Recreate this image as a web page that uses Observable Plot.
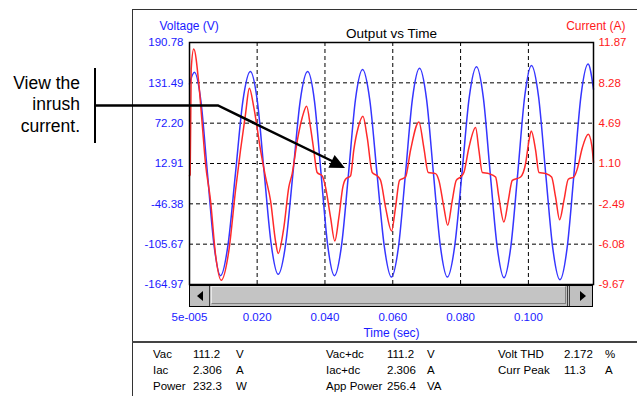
<!DOCTYPE html>
<html><head><meta charset="utf-8">
<script src="https://cdn.jsdelivr.net/npm/d3@7"></script>
<script src="https://cdn.jsdelivr.net/npm/@observablehq/plot@0.6"></script>
<style>
body{margin:0;background:#fff;width:637px;height:396px;overflow:hidden;position:relative;font-family:"Liberation Sans",Arial,sans-serif;}
#chart{position:absolute;left:0;top:0;}
.abs{position:absolute;white-space:nowrap;}
.tbl{position:absolute;white-space:nowrap;font-size:11.5px;line-height:14px;color:#000;}
</style></head><body>
<div class="abs" style="left:132px;top:9px;width:510px;height:400px;border-left:1px solid #333;border-top:1px solid #333;"></div>
<div class="abs" style="left:132px;top:341px;width:510px;height:2px;background:#444;"></div>
<div id="chart"></div>
<div id="scroll" class="abs" style="left:189px;top:284px;width:404px;height:23px;box-sizing:border-box;border:1px solid #000;border-top:2px solid #000;background:#c0c0c0;">
  <div class="abs" style="left:7px;top:5px;width:0;height:0;border-top:5px solid transparent;border-bottom:5px solid transparent;border-right:6px solid #000;"></div>
  <div class="abs" style="left:19px;top:0;width:1px;height:100%;background:#404040;"></div>
  <div class="abs" style="left:21px;top:0;width:355px;height:18px;box-sizing:border-box;border-top:1px solid #e8e8e8;border-left:1px solid #e8e8e8;border-right:1px solid #808080;border-bottom:1px solid #808080;background:#c4c4c4;"></div>
  <div class="abs" style="left:377px;top:0;width:1px;height:100%;background:#404040;"></div>
  <div class="abs" style="left:379px;top:0;width:1px;height:100%;background:#404040;"></div>
  <div class="abs" style="left:390px;top:5px;width:0;height:0;border-top:5px solid transparent;border-bottom:5px solid transparent;border-left:6px solid #000;"></div>
</div>
<div class="abs" style="left:0;top:72.5px;width:80px;text-align:right;font-size:17.5px;line-height:21.7px;color:#000;font-family:'Liberation Sans',Arial,sans-serif;">View the<br>inrush<br>current.</div>
<div id="table"></div>
<script>
// ---- data ----
const voltTicks = [190.78, 131.49, 72.20, 12.91, -46.38, -105.67, -164.97];
const voltTickLabels = ["190.78", "131.49", "72.20", "12.91", "-46.38", "-105.67", "-164.97"];
const currTicks = [11.87, 8.28, 4.69, 1.10, -2.49, -6.08, -9.67];
const currTickLabels = ["11.87", "8.28", "4.69", "1.10", "-2.49", "-6.08", "-9.67"];
const timeTicks = [0.05, 20, 40, 60, 80, 100];           // ms
const timeTickLabels = ["5e-005", "0.020", "0.040", "0.060", "0.080", "0.100"];

// Voltage waveform (time ms, volts)
const voltTime = [0.05,1.5,3.43,5.35,7.28,9.2,11.4,13.6,15.8,18.0,20.05,22.1,24.15,26.2,28.4,30.55,32.7,34.9,36.9,38.85,40.8,42.8,44.9,46.95,49.0,51.1,53.2,55.35,57.5,59.6,61.7,63.75,65.8,67.9,69.95,72.0,74.05,76.1,78.25,80.4,82.55,84.7,86.7,88.75,90.8,92.8,94.8,96.85,98.9,100.9,103.0,105.1,107.2,109.3,111.4,113.45,115.5,117.6,119.2];
const voltValue = [130,147,104,-2,-107,-152,-107,-2,105,148,105,-2,-106,-150,-106,-2,105,148,105,-2,-107,-152,-107,-2,107,151,107,-2,-109,-154,-109,-2,108,153,108,-2,-109,-154,-109,-2,110,155,110,-2,-110,-155,-110,-2,111,157,111,-2,-112,-158,-112,-2,112,159,122];

// Current waveform (time ms, amps)
const currTime = [0.05,0.25,0.55,1.3,2.8,3.8,4.77,6.25,7.72,9.4,11.64,13.62,15.1,16.57,17.7,
  19.02,21.0,22.47,23.95,25.42,26.2,27.87,29.34,30.34,31.82,33.3,34.6,
  35.75,36.7,37.7,39.2,40.17,41.65,42.9,44.1,45.27,46.07,47.55,48.5,49.8,51.2,
  52.47,53.95,55.4,56.4,57.87,59.64,60.82,62.0,63.77,65.25,67.7,
  69.17,70.45,72.62,73.6,75.07,76.2,77.54,78.72,80.0,80.97,82.45,84.42,
  85.4,86.4,88.34,90.32,91.29,92.77,94.07,95.25,97.7,99.17,100.15,100.85,
  102.12,103.1,105.07,106.84,108.02,109.2,110.47,111.76,113.42,114.4,115.9,117.66,118.7,119.2];
const currValue = [0.0,0.1,9.5,11.3,8.2,4.6,1.1,-2.2,-7.0,-9.3,-6.7,-1.3,2.3,5.5,7.8,
  6.1,2.3,-0.1,-2.2,-5.8,-6.9,-4.6,-1.0,0.2,3.1,5.2,6.2,
  4.3,2.3,0.3,0.0,-1.0,-3.7,-5.8,-3.7,-1.0,-0.3,0.0,2.3,4.3,5.3,
  3.4,0.3,0.0,-0.4,-2.8,-4.9,-2.8,-0.4,-0.1,2.3,4.8,
  2.5,0.3,0.2,-0.4,-2.8,-4.4,-2.2,-0.4,-0.1,0.3,2.5,4.3,
  2.3,0.3,0.2,-0.1,-1.9,-4.1,-2.2,-0.4,-0.1,1.1,3.1,4.0,
  2.3,0.3,0.2,-0.1,-1.9,-3.9,-2.2,-0.3,-0.1,0.6,2.5,3.7,2.7,1.2];

const tableLabels = [["Vac", "Iac", "Power"], ["Vac+dc", "Iac+dc", "App Power"], ["Volt THD", "Curr Peak"]];
const tableValues = [["111.2", "2.306", "232.3"], ["111.2", "2.306", "256.4"], ["2.172", "11.3"]];
const tableUnits = [["V", "A", "W"], ["V", "A", "VA"], ["%", "A"]];

// ---- build ----
const vMax = voltTicks[0], vMin = voltTicks[voltTicks.length - 1];
const iMax = currTicks[0], iMin = currTicks[currTicks.length - 1];
const toV = I => vMin + (I - iMin) / (iMax - iMin) * (vMax - vMin);

const voltData = voltTime.map((t, i) => ({t, v: voltValue[i]}));
const currData = currTime.map((t, i) => ({t, c: currValue[i]}));

const BLUE = "#1a1aff", RED = "#ff1a1a";
const FONT = "'Liberation Sans', Arial, sans-serif";
const txt = {fontFamily: FONT, lineAnchor: "middle"};

const chart = Plot.plot({
  width: 637, height: 396,
  marginLeft: 189, marginRight: 44, marginTop: 42, marginBottom: 112,
  x: {domain: [0.05, 119.2], axis: null},
  y: {domain: [vMin, vMax], axis: null},
  style: {background: "transparent", fontFamily: FONT, overflow: "visible"},
  marks: [
    Plot.ruleY(voltTicks.slice(1, -1), {stroke: "#000", strokeDasharray: "4,3", strokeWidth: 1}),
    Plot.ruleX(timeTicks.slice(1), {stroke: "#000", strokeDasharray: "4,3", strokeWidth: 1}),
    Plot.line(voltData, {x: "t", y: "v", stroke: "#3535ff", strokeWidth: 1.5, curve: "monotone-x"}),
    Plot.line(currData, {x: "t", y: d => toV(d.c), stroke: "#ff2a2a", strokeWidth: 1.5, curve: "monotone-x"}),
    Plot.frame({stroke: "#000", strokeWidth: 1.5}),
    Plot.text(voltTicks, {...txt, y: d => d, text: (d, i) => voltTickLabels[i], frameAnchor: "left", dx: -6, textAnchor: "end", fill: BLUE, fontSize: 11.5}),
    Plot.text(currTicks, {...txt, y: d => toV(d), text: (d, i) => currTickLabels[i], frameAnchor: "right", dx: 5, textAnchor: "start", fill: RED, fontSize: 11.5}),
    Plot.text(timeTicks, {...txt, x: d => d, text: (d, i) => timeTickLabels[i], frameAnchor: "bottom", dy: 33, fill: BLUE, fontSize: 11.5}),
    Plot.text(["Time (sec)"], {...txt, text: d => d, frameAnchor: "bottom", dy: 49, fill: BLUE, fontSize: 12}),
    Plot.text(["Voltage (V)"], {...txt, text: d => d, frameAnchor: "top-left", dx: -30, dy: -16, textAnchor: "start", fill: BLUE, fontSize: 12}),
    Plot.text(["Current (A)"], {...txt, text: d => d, frameAnchor: "top-right", dx: 32, dy: -16, textAnchor: "end", fill: RED, fontSize: 12}),
    Plot.text(["Output vs Time"], {...txt, text: d => d, frameAnchor: "top", dy: -9, fill: "#000", fontSize: 13.5})
  ]
});
document.getElementById("chart").appendChild(chart);

// table below the chart
const colX = [[153, 193, 236], [326, 387, 427], [498, 564, 605]];
const rowY = [354, 370, 386];
const tbl = document.getElementById("table");
tableLabels.forEach((col, c) => {
  col.forEach((lab, r) => {
    [lab, tableValues[c][r], tableUnits[c][r]].forEach((s, k) => {
      const d = document.createElement("div");
      d.className = "tbl";
      d.style.left = colX[c][k] + "px";
      d.style.top = (rowY[r] - 7) + "px";
      d.textContent = s;
      tbl.appendChild(d);
    });
  });
});

// annotation (callout lines and arrow)
const svg = d3.select("body").append("svg")
  .attr("width", 637).attr("height", 396)
  .style("position", "absolute").style("left", 0).style("top", 0).style("pointer-events", "none");
svg.append("line").attr("x1", 95).attr("y1", 68).attr("x2", 95).attr("y2", 143).attr("stroke", "#000").attr("stroke-width", 2);
svg.append("polyline").attr("points", "95,105.5 218,105.5 333,161.5").attr("fill", "none").attr("stroke", "#000").attr("stroke-width", 2.5);
svg.append("polygon").attr("points", "345,168 328.4,167.7 334.6,155.1").attr("fill", "#000");
</script>
</body></html>
